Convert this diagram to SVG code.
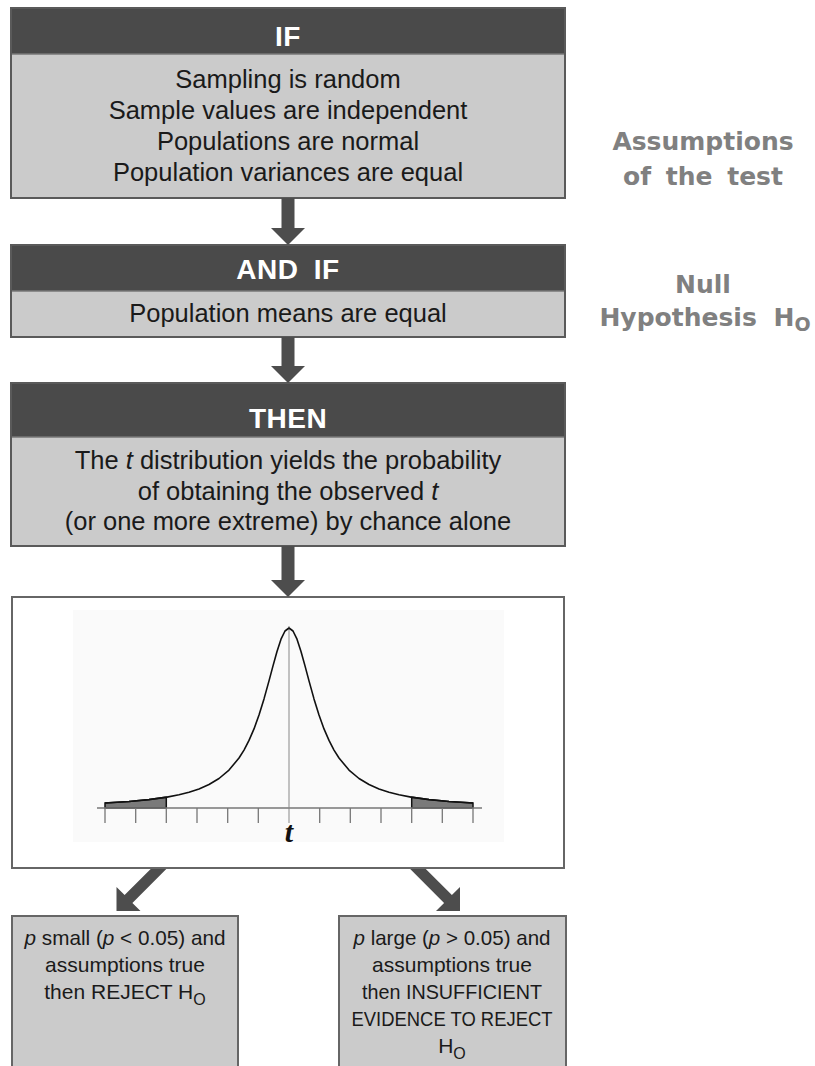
<svg xmlns="http://www.w3.org/2000/svg" width="815" height="1066" viewBox="0 0 815 1066">
<style>
.hdr{fill:#4a4a4a}
.body{fill:#cbcbcb}
.frame{fill:none;stroke:#5a5a5a;stroke-width:2}
.ht{font-family:"Liberation Sans",Arial,sans-serif;font-weight:bold;font-size:28px;fill:#ffffff;text-anchor:middle;letter-spacing:0.5px}
.bt{font-family:"Liberation Sans",Arial,sans-serif;font-size:25.5px;fill:#1a1a1a;text-anchor:middle}
.st{font-family:"Liberation Sans",Arial,sans-serif;font-size:21px;fill:#1a1a1a;text-anchor:middle}
.side{font-family:"DejaVu Sans",Verdana,sans-serif;font-weight:bold;font-size:25px;fill:#808080;text-anchor:middle}
.arrow{fill:#4d4d4d}
.tick{stroke:#777;stroke-width:1.3;fill:none}
.tail{fill:#7a7a7a;stroke:#111;stroke-width:1.5}
</style>
<rect width="815" height="1066" fill="#ffffff"/>

<g id="node-if">
<rect class="hdr" x="11" y="8" width="554" height="46"/>
<rect class="body" x="11" y="54" width="554" height="144"/>
<line x1="11" y1="54" x2="565" y2="54" stroke="#777" stroke-width="1.5"/>
<rect class="frame" x="11" y="8" width="554" height="190"/>
<text class="ht" x="288" y="46">IF</text>
<text class="bt" x="288" y="88">Sampling is random</text>
<text class="bt" x="288" y="119">Sample values are independent</text>
<text class="bt" x="288" y="150">Populations are normal</text>
<text class="bt" x="288" y="181">Population variances are equal</text>
</g>

<g id="node-andif">
<rect class="hdr" x="11" y="245" width="554" height="46"/>
<rect class="body" x="11" y="291" width="554" height="46"/>
<line x1="11" y1="291" x2="565" y2="291" stroke="#777" stroke-width="1.5"/>
<rect class="frame" x="11" y="245" width="554" height="92"/>
<text class="ht" x="288" y="279" word-spacing="7">AND IF</text>
<text class="bt" x="288" y="322">Population means are equal</text>
</g>

<g id="node-then">
<rect class="hdr" x="11" y="383" width="554" height="54"/>
<rect class="body" x="11" y="437" width="554" height="109"/>
<line x1="11" y1="437" x2="565" y2="437" stroke="#777" stroke-width="1.5"/>
<rect class="frame" x="11" y="383" width="554" height="163"/>
<text class="ht" x="288" y="428">THEN</text>
<text class="bt" x="288" y="469">The <tspan font-style="italic">t</tspan> distribution yields the probability</text>
<text class="bt" x="288" y="500">of obtaining the observed <tspan font-style="italic">t</tspan></text>
<text class="bt" x="288" y="530">(or one more extreme) by chance alone</text>
</g>

<g id="node-graph">
<rect x="12" y="597" width="552" height="271" fill="#ffffff" stroke="#666" stroke-width="2"/>
<rect x="73" y="610" width="431" height="232" fill="#fafafa"/>
<polygon class="tail" points="105,808 105,803 129,801.5 149,799.6 166.3,797.2 166.3,808"/>
<polygon class="tail" points="411.7,808 411.7,797.2 429,799.6 449,801.5 473,803 473,808"/>
<line x1="97" y1="808" x2="482" y2="808" stroke="#777" stroke-width="1.3"/>
<path class="tick" d="M105,808V823M135.7,808V823M166.3,808V823M197,808V823M227.7,808V823M258.3,808V823M319.7,808V823M350.3,808V823M381,808V823M411.7,808V823M442.3,808V823M473,808V823"/>
<line x1="289" y1="626" x2="289" y2="823" stroke="#888" stroke-width="1"/>
<polyline fill="none" stroke="#111" stroke-width="1.6" stroke-linejoin="round" points="105,803 129,801.5 149,799.6 167,797.1 179,794.8 189,792.2 199,788.9 209,784.5 219,778.5 229,770.1 239,758 244,750.1 249,740.4 254,728.9 259,715.1 264,698.9 269,680.9 273,665.9 277,651.5 281,639.2 285,631 289,628 293,631 297,639.2 301,651.5 305,665.9 309,680.9 314,698.9 319,715.1 324,728.9 329,740.4 334,750.1 339,758 349,770.1 359,778.5 369,784.5 379,788.9 389,792.2 399,794.8 411,797.1 429,799.6 449,801.5 473,803"/>
<text x="289" y="842" font-family="'Liberation Serif','Times New Roman',serif" font-weight="bold" font-style="italic" font-size="30" fill="#111" text-anchor="middle">t</text>
</g>

<g id="node-reject">
<rect x="12" y="916" width="226" height="160" fill="#cbcbcb" stroke="#666" stroke-width="2"/>
<text class="st" x="125" y="945" textLength="201" lengthAdjust="spacingAndGlyphs"><tspan font-style="italic">p</tspan> small (<tspan font-style="italic">p</tspan> &lt; 0.05) and</text>
<text class="st" x="125" y="972">assumptions true</text>
<text class="st" x="125" y="999">then REJECT H<tspan font-size="16" dy="6">O</tspan></text>
</g>

<g id="node-insufficient">
<rect x="339" y="916" width="227" height="160" fill="#cbcbcb" stroke="#666" stroke-width="2"/>
<text class="st" x="452" y="945" textLength="197" lengthAdjust="spacingAndGlyphs"><tspan font-style="italic">p</tspan> large (<tspan font-style="italic">p</tspan> &gt; 0.05) and</text>
<text class="st" x="452" y="972">assumptions true</text>
<text class="st" x="452" y="999" textLength="180" lengthAdjust="spacingAndGlyphs">then INSUFFICIENT</text>
<text class="st" x="452" y="1026" textLength="201" lengthAdjust="spacingAndGlyphs">EVIDENCE TO REJECT</text>
<text class="st" x="452" y="1053">H<tspan font-size="16" dy="6">O</tspan></text>
</g>

<g id="label-assumptions">
<text class="side" x="703" y="150">Assumptions</text>
<text class="side" x="703" y="185" word-spacing="6">of the test</text>
</g>

<g id="label-null">
<text class="side" x="703" y="293">Null</text>
<text class="side" x="705" y="326" word-spacing="8">Hypothesis H<tspan font-size="19" dy="5">O</tspan></text>
</g>

<g id="connectors">
<polygon class="arrow" points="281.5,198 294.5,198 294.5,228 305,228 288,245 271,228 281.5,228"/>
<polygon class="arrow" points="281.5,337 294.5,337 294.5,366 305,366 288,383 271,366 281.5,366"/>
<polygon class="arrow" points="281.5,546 294.5,546 294.5,580 305,580 288,597 271,580 281.5,580"/>
<polygon class="arrow" points="150.7,869 166.3,869 132.4,902.9 140.5,911 116.5,911 116.5,887 124.6,895.1"/>
<polygon class="arrow" points="410.2,869 425.8,869 451.9,895.1 460,887 460,911 436,911 444.1,902.9"/>
</g>
</svg>
